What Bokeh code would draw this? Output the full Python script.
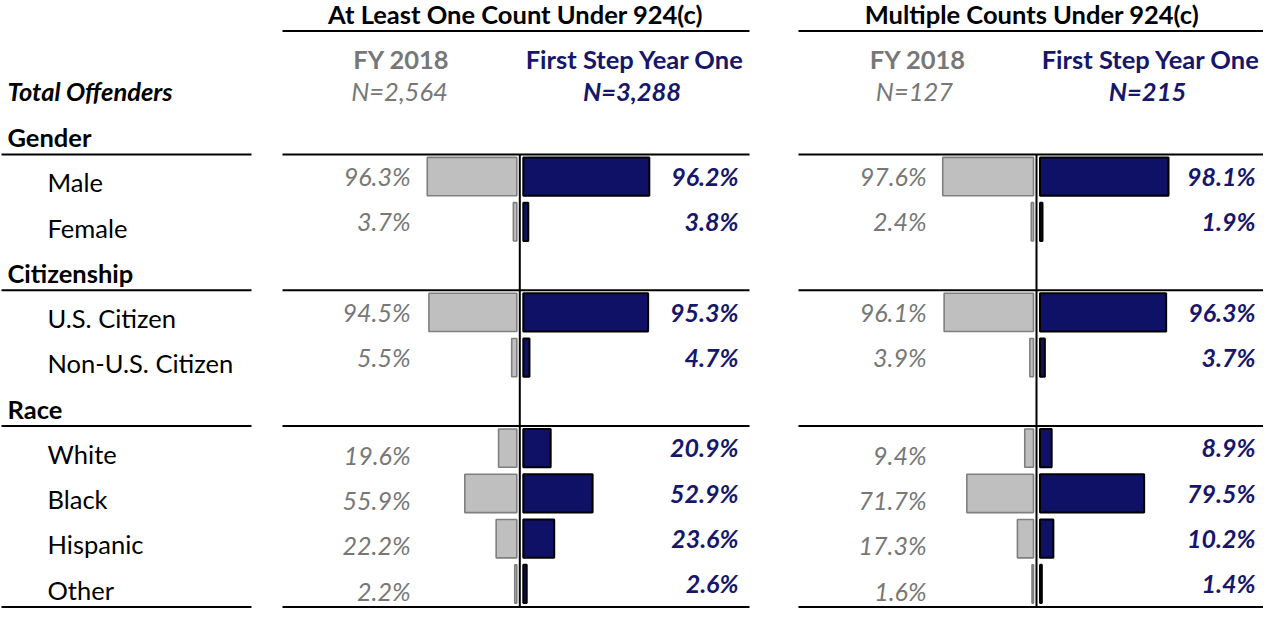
from bokeh.plotting import figure
from bokeh.models import Range1d, ColumnDataSource
from bokeh.embed import file_html
from bokeh.resources import INLINE
from bokeh.core.properties import value

# ---------------- data ----------------
panel_titles = ["At Least One Count Under 924(c)", "Multiple Counts Under 924(c)"]
period_labels = ["FY 2018", "First Step Year One"]
n_labels = [["N=2,564", "N=3,288"], ["N=127", "N=215"]]
total_label = "Total Offenders"
sections = ["Gender", "Citizenship", "Race"]
section_categories = [["Male", "Female"],
                      ["U.S. Citizen", "Non-U.S. Citizen"],
                      ["White", "Black", "Hispanic", "Other"]]
at_least_one_fy2018 = [96.3, 3.7, 94.5, 5.5, 19.6, 55.9, 22.2, 2.2]
at_least_one_first_step = [96.2, 3.8, 95.3, 4.7, 20.9, 52.9, 23.6, 2.6]
multiple_fy2018 = [97.6, 2.4, 96.1, 3.9, 9.4, 71.7, 17.3, 1.6]
multiple_first_step = [98.1, 1.9, 96.3, 3.7, 8.9, 79.5, 10.2, 1.4]

# ---------------- style / layout ----------------
FONT = value("Lato")
GRAY_TXT = "#777777"
NAVY_TXT = "#16166b"
GRAY_FILL = "#bfbfbf"
GRAY_LINE = "#7f7f7f"
NAVY_FILL = "#0e1166"
FS = "25.5px"
FS_PCT = "25px"
DY = -10.7  # baseline correction for the text glyphs

ROW0 = 147.0
ROW_H = 46.0

p = figure(width=1263, height=608, output_backend="svg", toolbar_location=None,
           x_range=Range1d(5, 1268), y_range=Range1d(624, 6),
           min_border=0, outline_line_color=None)
p.axis.visible = False
p.grid.visible = False
p.background_fill_color = "white"

# Build row structure
rows = []  # (text, is_header, section_index)
for si, (sec, cats) in enumerate(zip(sections, section_categories)):
    rows.append((sec, True, si))
    for c in cats:
        rows.append((c, False, si))
row_y = [ROW0 + ROW_H * i for i in range(len(rows))]

cat_rows = [i for i, r in enumerate(rows) if not r[1]]
cat_sec = [rows[i][2] for i in cat_rows]
cat_y = [row_y[i] for i in cat_rows]
header_rows = [i for i, r in enumerate(rows) if r[1]]

# Left labels
p.text(x=[12] * len(header_rows), y=[row_y[i] + 8.5 + DY for i in header_rows],
       text=[rows[i][0] for i in header_rows], text_font=FONT, text_font_size=FS,
       text_font_style="bold", text_color="black", text_baseline="alphabetic")
p.text(x=[52] * len(cat_rows), y=[row_y[i] + 8.5 + DY for i in cat_rows],
       text=[rows[i][0] for i in cat_rows], text_font=FONT, text_font_size=FS,
       text_color="black", text_baseline="alphabetic")
p.text(x=[12], y=[109 + DY], text=[total_label], text_font=FONT, text_font_size=FS,
       text_font_style="bold italic", text_color="black", text_baseline="alphabetic")

# Horizontal rules
rule_y = [row_y[i] + 15.5 for i in header_rows] + [row_y[-1] + 15.5]
p.segment(x0=[6] * len(rule_y), x1=[256] * len(rule_y), y0=rule_y, y1=rule_y,
          line_color="black", line_width=2)

panels = [
    dict(fy=at_least_one_fy2018, fs=at_least_one_first_step, axis=524.3,
         x0=287, x1=754, gray_lx=415, navy_lx=743, title_x=520,
         fy_x=406, fs_x=639.5, nfy_x=404, nfs_x=636.5),
    dict(fy=multiple_fy2018, fs=multiple_first_step, axis=1041.0,
         x0=803, x1=1271, gray_lx=931, navy_lx=1260, title_x=1036.5,
         fy_x=922.5, fs_x=1155.5, nfy_x=919, nfs_x=1152),
]
GRAY_SCALE = 0.93
NAVY_SCALE = 1.31

for k, pn in enumerate(panels):
    ax = pn["axis"]
    # title + rule
    p.text(x=[pn["title_x"]], y=[30.5 + DY], text=[panel_titles[k]], text_font=FONT,
           text_font_size=FS, text_font_style="bold", text_color="black",
           text_align="center", text_baseline="alphabetic")
    ys = [37] + rule_y
    p.segment(x0=[pn["x0"]] * len(ys), x1=[pn["x1"]] * len(ys), y0=ys, y1=ys,
              line_color="black", line_width=2)
    # column headers
    p.text(x=[pn["fy_x"], pn["fs_x"]], y=[76 + DY, 76 + DY], text=period_labels,
           text_font=FONT, text_font_size=FS, text_font_style="bold",
           text_color=[GRAY_TXT, NAVY_TXT], text_align="center",
           text_baseline="alphabetic")
    p.text(x=[pn["nfy_x"]], y=[109 + DY], text=[n_labels[k][0]], text_font=FONT,
           text_font_size=FS, text_font_style="italic", text_color=GRAY_TXT,
           text_align="center", text_baseline="alphabetic")
    p.text(x=[pn["nfs_x"]], y=[109 + DY], text=[n_labels[k][1]], text_font=FONT,
           text_font_size=FS, text_font_style="bold italic", text_color=NAVY_TXT,
           text_align="center", text_baseline="alphabetic")

    # bars
    top = [y - 27.5 for y in cat_y]
    bot = [y + 11.5 for y in cat_y]
    gsrc = ColumnDataSource(dict(
        right=[ax - 3] * len(cat_y),
        left=[ax - 3 - v * GRAY_SCALE for v in pn["fy"]],
        top=top, bottom=bot))
    p.quad(left="left", right="right", top="top", bottom="bottom", source=gsrc,
           fill_color=GRAY_FILL, line_color=GRAY_LINE, line_width=1.6)
    nsrc = ColumnDataSource(dict(
        left=[ax + 3.5] * len(cat_y),
        right=[ax + 3.5 + v * NAVY_SCALE for v in pn["fs"]],
        top=top, bottom=bot))
    p.quad(left="left", right="right", top="top", bottom="bottom", source=nsrc,
           fill_color=NAVY_FILL, line_color="black", line_width=2)

    # center axis line
    p.segment(x0=[ax], x1=[ax], y0=[rule_y[0]], y1=[rule_y[-1]],
              line_color="black", line_width=2)

    # value labels
    gy = [y + (9.5 if s == 2 else 2) + DY for y, s in zip(cat_y, cat_sec)]
    ny = [y + 2 + DY for y in cat_y]
    p.text(x=[pn["gray_lx"]] * len(cat_y), y=gy, text=[f"{v:.1f}%" for v in pn["fy"]],
           text_font=FONT, text_font_size=FS_PCT, text_font_style="italic",
           text_color=GRAY_TXT, text_align="right", text_baseline="alphabetic")
    p.text(x=[pn["navy_lx"]] * len(cat_y), y=ny, text=[f"{v:.1f}%" for v in pn["fs"]],
           text_font=FONT, text_font_size=FS_PCT, text_font_style="bold italic",
           text_color=NAVY_TXT, text_align="right", text_baseline="alphabetic")

open("out.html", "w").write(file_html(p, INLINE))
